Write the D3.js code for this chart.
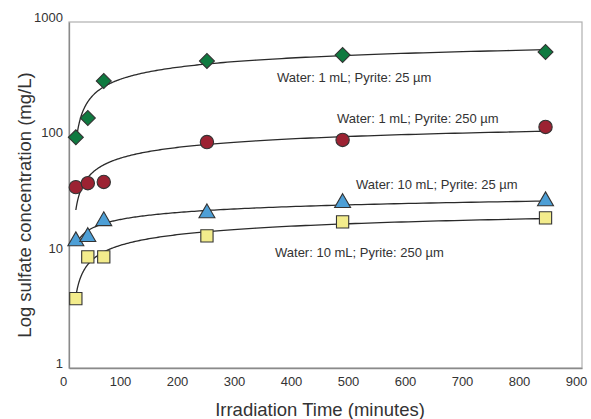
<!DOCTYPE html>
<html><head><meta charset="utf-8">
<script src="https://cdn.jsdelivr.net/npm/d3@7"></script>
<style>
html,body{margin:0;padding:0;background:#fff;}
text{font-family:"Liberation Sans",Arial,sans-serif;}
</style></head>
<body><svg id="c" width="591" height="419"></svg>
<script>
// Data
const times = [12, 33, 61, 242, 480, 836];
const green1mL25 = [100, 147, 308, 460, 518, 550];
const red1mL250 = [37, 40, 41, 91, 95, 123];
const blue10mL25 = [12.6, 13.7, 18.8, 22, 27, 28];
const yellow10mL250 = [4.0, 9.2, 9.2, 14, 18.5, 20];
const seriesLabels = ["Water: 1 mL; Pyrite: 25 \u00b5m", "Water: 1 mL; Pyrite: 250 \u00b5m",
  "Water: 10 mL; Pyrite: 25 \u00b5m", "Water: 10 mL; Pyrite: 250 \u00b5m"];
const xTicks = [0,100,200,300,400,500,600,700,800,900];
const yTicks = [1,10,100,1000];

const svg = d3.select("#c");
const L = 69, R = 582, T = 22, B = 368;
const x = d3.scaleLinear().domain([0,900]).range([L,R]);
const y = d3.scaleLog().domain([1,1000]).range([B,T]);

// frame
svg.append("rect").attr("x",L).attr("y",T).attr("width",R-L).attr("height",B-T)
  .attr("fill","none").attr("stroke","#b0b0b0").attr("stroke-width",1.2);

const xAxis = svg.append("g").attr("transform",`translate(0,${B})`)
  .call(d3.axisBottom(x).tickValues(xTicks).tickSize(0).tickPadding(9).tickFormat(d3.format("d")));
xAxis.select(".domain").attr("stroke","#8a8a8a").attr("stroke-width",1.3);
xAxis.selectAll("text").attr("font-size",13).attr("fill","#333").attr("dx",-6);

const yAxis = svg.append("g").attr("transform",`translate(${L},0)`)
  .call(d3.axisLeft(y).tickValues(yTicks).tickSize(0).tickPadding(6).tickFormat(d3.format("d")));
yAxis.select(".domain").attr("stroke","#8a8a8a").attr("stroke-width",1.3);
yAxis.selectAll("text").attr("font-size",13).attr("fill","#333").attr("dy","-0.05em");

svg.append("text").attr("x",320).attr("y",416).attr("text-anchor","middle")
  .attr("font-size",18.5).attr("fill","#333").text("Irradiation Time (minutes)");
svg.append("text").attr("transform","translate(31,205) rotate(-90)").attr("text-anchor","middle")
  .attr("font-size",18.5).attr("fill","#333").text("Log sulfate concentration (mg/L)");

const series = [
  {vals: green1mL25, shape: d3.symbolSquare, rot: 45, size: 112, fill:"#0f7a40", label: seriesLabels[0], lx:277, ly:82},
  {vals: red1mL250, shape: d3.symbolCircle, rot: 0, size: 140, fill:"#9c2232", label: seriesLabels[1], lx:337, ly:123},
  {vals: blue10mL25, shape: d3.symbolTriangle, rot: 0, size: 110, fill:"#4d9fd6", label: seriesLabels[2], lx:356, ly:189},
  {vals: yellow10mL250, shape: d3.symbolSquare, rot: 0, size: 150, fill:"#f3ec8c", label: seriesLabels[3], lx:275, ly:257}
];

// logarithmic trendline (least squares on ln x)
function logFit(xs, ys){
  const lx = xs.map(Math.log);
  const mx = d3.mean(lx), my = d3.mean(ys);
  let sxy=0, sxx=0;
  lx.forEach((v,i)=>{ sxy += (v-mx)*(ys[i]-my); sxx += (v-mx)*(v-mx); });
  const a = sxy/sxx, b = my - a*mx;
  return t => a*Math.log(t)+b;
}

const line = d3.line().x(d=>x(d[0])).y(d=>y(d[1])).curve(d3.curveLinear);
series.forEach(s=>{
  const f = logFit(times, s.vals);
  const t0 = times[0], t1 = times[times.length-1];
  const pts = d3.range(0,201).map(i=>{ const t = t0*Math.pow(t1/t0, i/200); return [t, f(t)]; })
    .filter(p=>p[1]>1);
  svg.append("path").attr("d",line(pts)).attr("fill","none").attr("stroke","#2a2a2a").attr("stroke-width",1.3);
});
series.forEach(s=>{
  svg.append("g").selectAll("path").data(s.vals).join("path")
    .attr("transform",(d,i)=>`translate(${x(times[i])},${y(d)}) rotate(${s.rot})`)
    .attr("d", d3.symbol().type(s.shape).size(s.size))
    .attr("fill", s.fill).attr("stroke","#333").attr("stroke-width",1.1);
  svg.append("text").attr("x",s.lx).attr("y",s.ly).attr("font-size",13).attr("fill","#333").text(s.label);
});
</script></body></html>
